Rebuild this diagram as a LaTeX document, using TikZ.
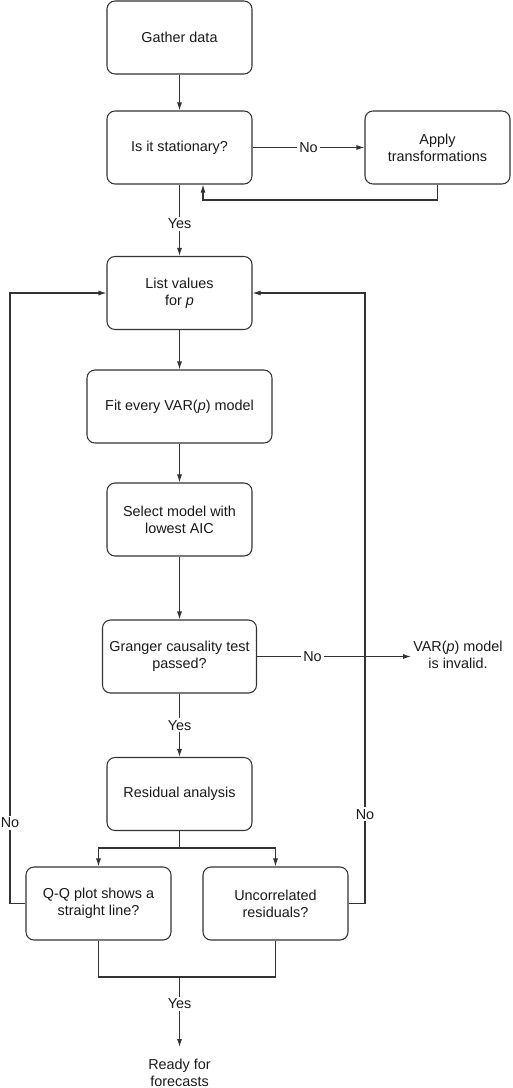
\documentclass[tikz,border=0pt]{standalone}
\usepackage{fontspec}
\setmainfont{Liberation Sans}
\usetikzlibrary{arrows.meta}
\definecolor{linegray}{HTML}{333333}
\definecolor{textgray}{HTML}{1A1A1A}
\tikzset{
  box/.style={draw=linegray, line width=0.8pt, rounded corners=6pt, fill=white,
    minimum width=108.75pt, minimum height=54.75pt, align=center, text=textgray,
    font=\fontsize{10.8}{12.8}\selectfont},
  plain/.style={align=center, text=textgray, font=\fontsize{10.8}{12.8}\selectfont},
  lbl/.style={fill=white, inner sep=1.5pt, text=textgray, font=\fontsize{10.8}{12.8}\selectfont},
  arr/.style={draw=linegray, line width=0.8pt, -{Latex[length=6pt,width=3.8pt]}},
  ln/.style={draw=linegray, line width=0.8pt}
}
\begin{document}
\begin{tikzpicture}[x=0.75pt,y=-0.75pt]
\useasboundingbox (0,0) rectangle (512,1088);
        \node[box] (gather) at (179.5,37.5) {Gather data};
        \node[box] (stat) at (179.5,147.5) {Is it stationary?};
        \node[box] (apply) at (437.5,147.5) {Apply\\transformations};
        \node[box] (list) at (179.5,293) {List values\\for \textit{p}};
        \node[box, minimum width=138.75pt] (fit) at (179.5,406.5) {Fit every VAR(\textit{p}) model};
        \node[box] (select) at (179.5,519.5) {Select model with\\lowest AIC};
        \node[box, minimum width=115.5pt] (granger) at (179.5,656.5) {Granger causality test\\passed?};
        \node[plain] (invalid) at (458,655) {VAR(\textit{p}) model\\is invalid.};
        \node[box] (resid) at (179.5,794) {Residual analysis};
        \node[box] (qq) at (98.5,903.5) {Q-Q plot shows a\\straight line?};
        \node[box] (uncorr) at (275.5,903.5) {Uncorrelated\\residuals?};
        \node[plain, anchor=north, inner ysep=8.5pt] (ready) at (179.5,1047) {Ready for\\forecasts};
        \coordinate (ret) at (203,200);
        \coordinate (fork) at (179.5,848);
        \coordinate (join) at (179.5,977);
        \coordinate (lx) at (10,903.5);
        \coordinate (rx) at (365,903.5);
\draw[arr] (gather)--(stat);
\draw[arr] (stat)--node[lbl]{No}(apply);
\draw[arr] (apply.south)|-(ret)--(ret|-stat.south);
\draw[arr] (stat)--node[lbl,pos=0.55]{Yes}(list);
\draw[arr] (list)--(fit);
\draw[arr] (fit)--(select);
\draw[arr] (select)--(granger);
\draw[arr] (granger.east)--node[lbl,pos=0.36]{No}(granger.east-|411,0);
\draw[arr] (granger)--node[lbl]{Yes}(resid);
\draw[ln] (resid.south)--(fork);
\draw[arr] (fork)-|(qq.north);
\draw[arr] (fork)-|(uncorr.north);
\draw[ln] (qq.west)--(lx);
\draw[arr] (lx)|-node[lbl,pos=0.066]{No}(list.west);
\draw[ln] (uncorr.east)--(rx);
\draw[arr] (rx)|-node[lbl,pos=0.073]{No}(list.east);
\draw[ln] (qq.south)|-(join)-|(uncorr.south);
\draw[arr] (join)--node[lbl,pos=0.38]{Yes}(ready);
\end{tikzpicture}
\end{document}
